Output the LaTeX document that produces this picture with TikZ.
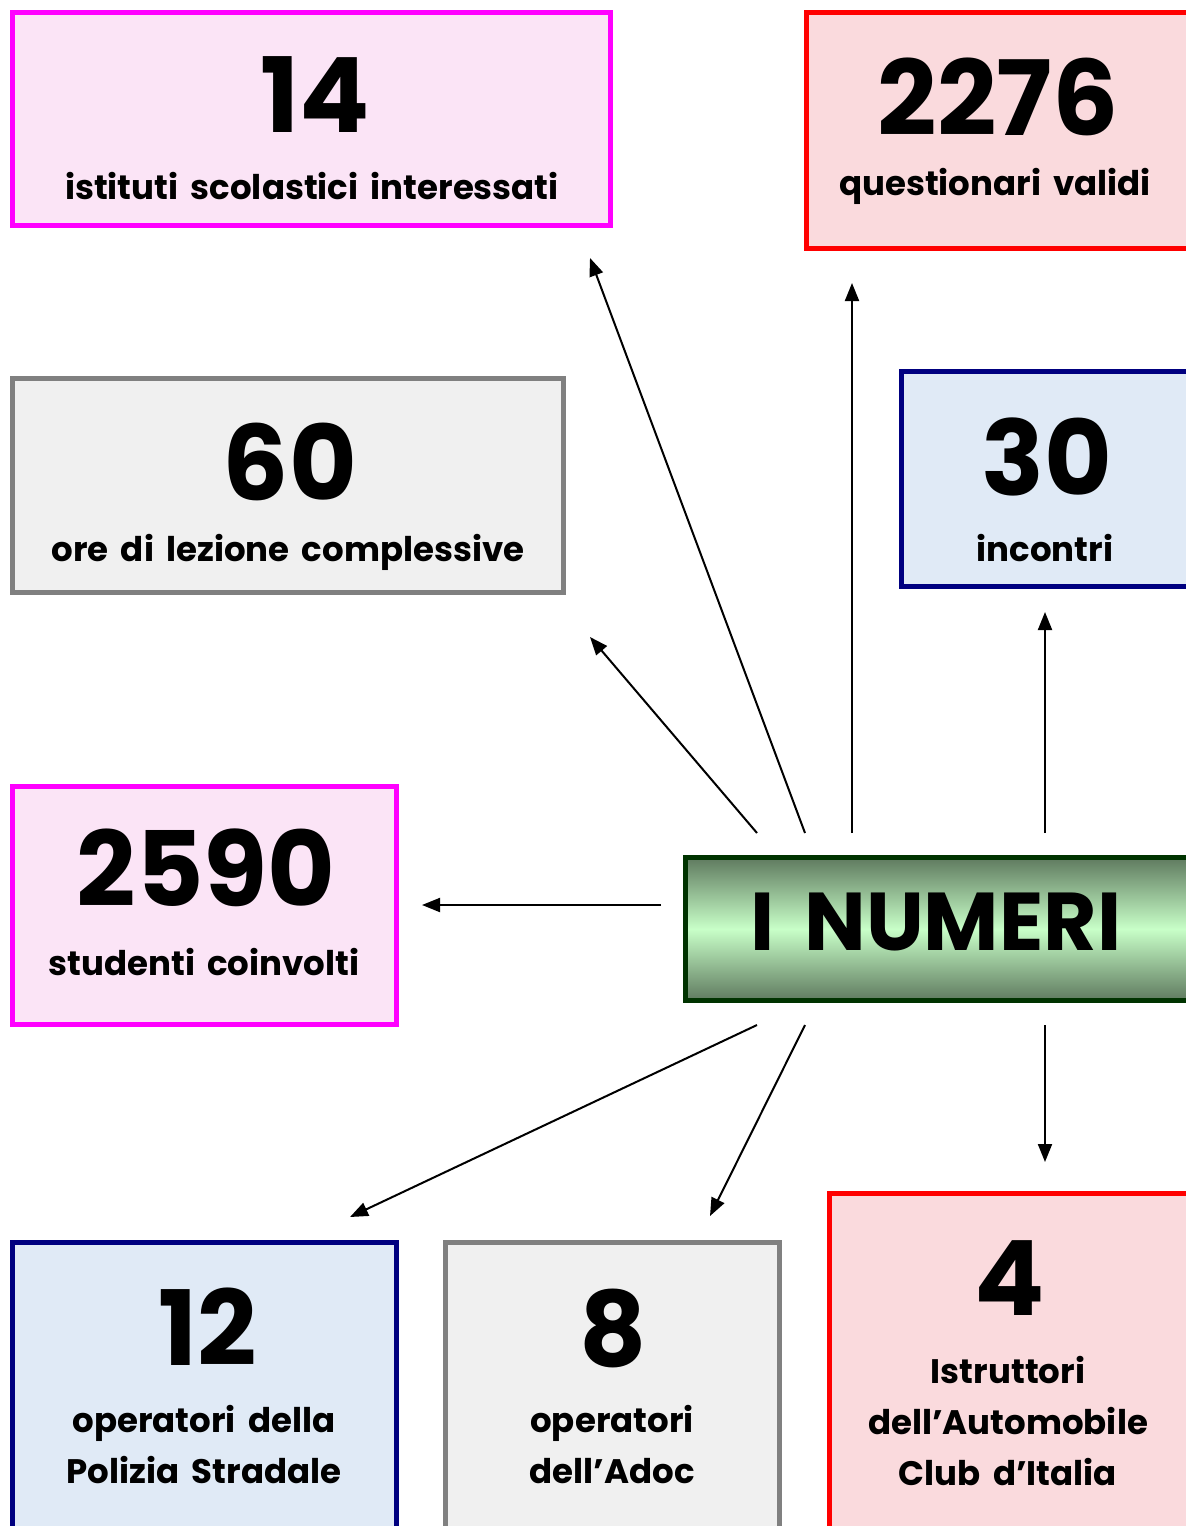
\documentclass[tikz,border=0pt]{standalone}
\usepackage{fontspec}
\setmainfont{Poppins}[WordSpace=1.7]
\usetikzlibrary{arrows.meta}
\definecolor{magB}{HTML}{FF00FF}
\definecolor{pinkF}{HTML}{FBE4F6}
\definecolor{redB}{HTML}{FF0000}
\definecolor{redF}{HTML}{FADADD}
\definecolor{grayB}{HTML}{808080}
\definecolor{grayF}{HTML}{F0F0F0}
\definecolor{navyB}{HTML}{000080}
\definecolor{blueF}{HTML}{E0EAF6}
\definecolor{greenB}{HTML}{003300}
\definecolor{greenD}{HTML}{5F7A5F}
\definecolor{greenL}{HTML}{C8FFC8}
\tikzset{
  x=0.5pt, y=-0.5pt,
  card/.style={draw=#1, line width=2.5pt, rectangle, inner sep=0pt, outer sep=0pt},
  bignum/.style={font=\fontsize{52}{56}\selectfont\bfseries, inner sep=0pt},
  lbl/.style={font=\fontsize{17}{25.5}\selectfont\bfseries, inner sep=0pt, align=center},
  arr/.style={line width=1pt, -{Triangle[length=9pt,width=7pt]}}
}
\begin{document}
\begin{tikzpicture}
\useasboundingbox (0,0) rectangle (1186,1526);
\clip (0,0) rectangle (1186,1526);
% boxes
\node[card=magB, fill=pinkF, minimum width=299pt, minimum height=106.5pt] (b14) at (311.5,119) {};
\node[card=redB, fill=redF, minimum width=196.75pt, minimum height=118pt] (b2276) at (1003.25,130.5) {};
\node[card=grayB, fill=grayF, minimum width=275.5pt, minimum height=107pt] (b60) at (288,485.5) {};
\node[card=navyB, fill=blueF, minimum width=149.25pt, minimum height=107.5pt] (b30) at (1050.75,479) {};
\node[card=magB, fill=pinkF, minimum width=192pt, minimum height=119pt] (b2590) at (204.5,905.5) {};
\node[card=greenB, top color=greenD, bottom color=greenD, middle color=greenL, minimum width=257.25pt, minimum height=71.5pt] (bnum) at (942.75,929) {};
\node[card=navyB, fill=blueF, minimum width=192pt, minimum height=148.75pt] (b12) at (204.5,1391.25) {};
\node[card=grayB, fill=grayF, minimum width=167pt, minimum height=148.75pt] (b8) at (612.5,1391.25) {};
\node[card=redB, fill=redF, minimum width=185.25pt, minimum height=173.25pt] (b4) at (1014.75,1366.75) {};
% texts
\node[bignum] (n14) at (315,95) {14};
\node[lbl] (l14) at (312,186) {istituti scolastici interessati};
\node[bignum] (n2276) at (998,97) {2276};
\node[lbl] (l2276) at (995,186) {questionari validi};
\node[bignum] (n60) at (290,462) {60};
\node[lbl] (l60) at (288,552) {ore di lezione complessive};
\node[bignum] (n30) at (1047,457) {30};
\node[lbl] (l30) at (1045,548) {incontri};
\node[bignum] (n2590) at (206,868) {2590};
\node[lbl] (l2590) at (204,962) {studenti coinvolti};
\node[font=\fontsize{41}{44}\selectfont\bfseries, inner sep=0pt] (tnum) at (936,922) {I NUMERI};
\node[bignum] (n12) at (208,1327) {12};
\node[lbl] (l12) at (204,1444) {operatori della\\Polizia Stradale};
\node[bignum] (n8) at (613,1328) {8};
\node[lbl] (l8) at (612,1444) {operatori\\dell’Adoc};
\node[bignum] (n4) at (1010,1278) {4};
\node[lbl] (l4) at (1008,1421) {Istruttori\\dell’Automobile\\Club d’Italia};
% arrow endpoints
\coordinate (s60) at (757,833);   \coordinate (e60) at (590,637);
\coordinate (s14) at (805,833);   \coordinate (e14) at (590,258);
\coordinate (s2276) at (852,833); \coordinate (e2276) at (852,283);
\coordinate (s30) at (1045,833);  \coordinate (e30) at (1045,612);
\coordinate (s2590) at (661,905); \coordinate (e2590) at (422,905);
\coordinate (s12) at (757,1025);  \coordinate (e12) at (350,1217);
\coordinate (s8) at (805,1025);   \coordinate (e8) at (710,1216);
\coordinate (s4) at (1045,1025);  \coordinate (e4) at (1045,1162);
\draw[arr] (s60) -- (e60);
\draw[arr] (s14) -- (e14);
\draw[arr] (s2276) -- (e2276);
\draw[arr] (s30) -- (e30);
\draw[arr] (s2590) -- (e2590);
\draw[arr] (s12) -- (e12);
\draw[arr] (s8) -- (e8);
\draw[arr] (s4) -- (e4);
\end{tikzpicture}
\end{document}
